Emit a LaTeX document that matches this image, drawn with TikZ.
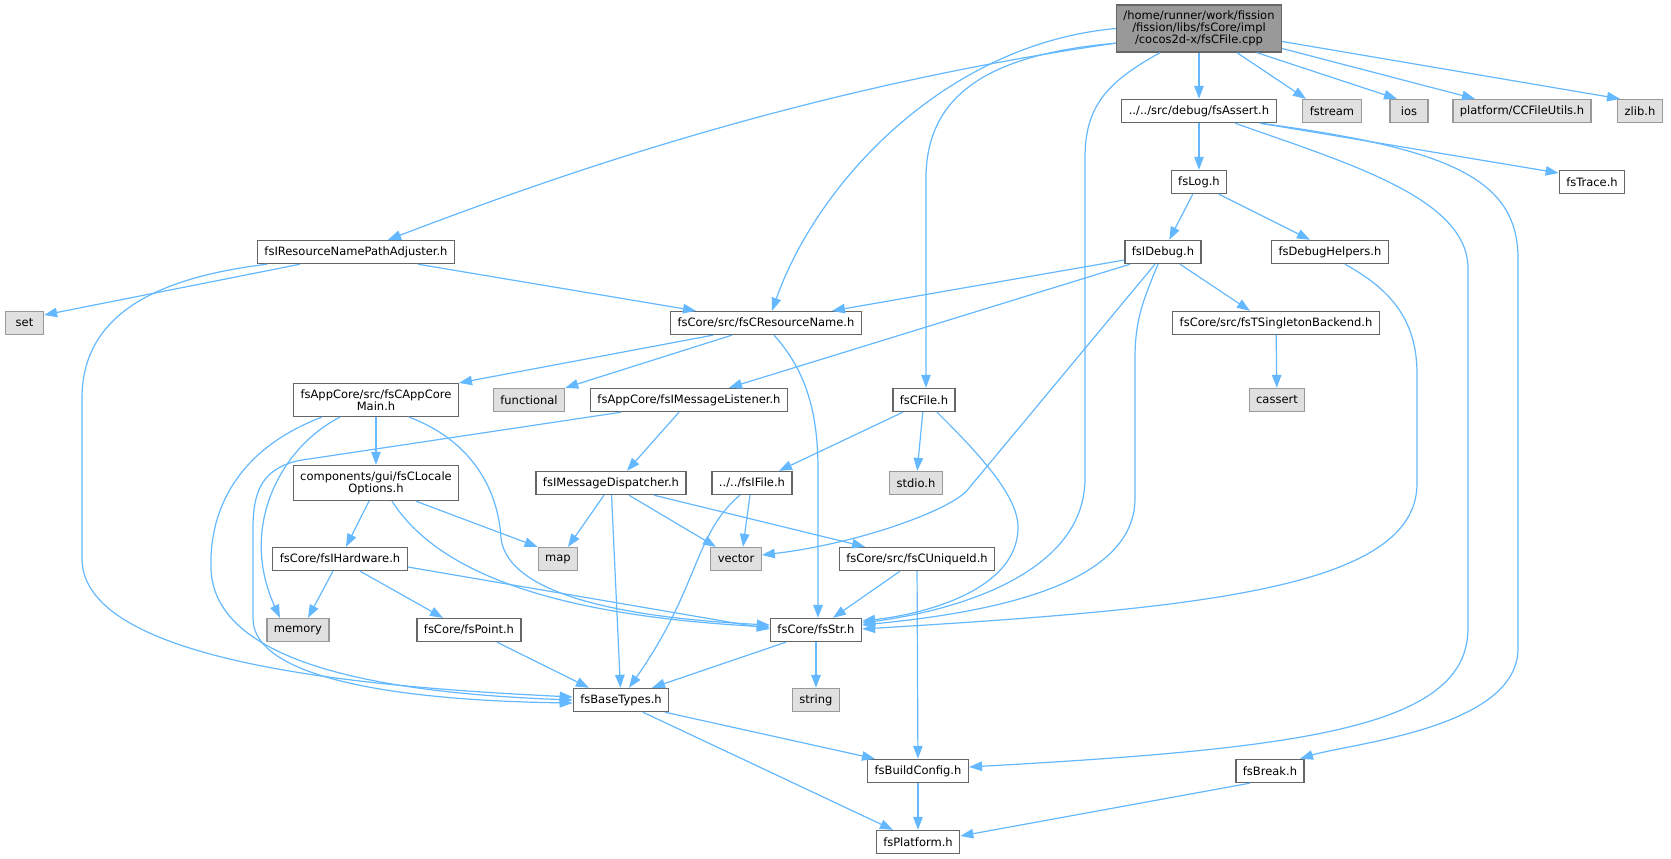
\documentclass[tikz,border=0pt]{standalone}
\usepackage{fontspec}
\setmainfont{DejaVu Sans}
\usetikzlibrary{arrows.meta,positioning}
\definecolor{edgeblue}{HTML}{63B8FF}
\definecolor{boxgray}{HTML}{666666}
\definecolor{sysline}{HTML}{999999}
\definecolor{sysfill}{HTML}{E0E0E0}
\definecolor{rootfill}{HTML}{999999}
\tikzset{%
	>={Triangle[length=13pt,width=9.5pt]},
	header/.style={rectangle, draw=boxgray, fill=white, line width=1.3pt, inner xsep=7pt, inner ysep=6pt, minimum height=23pt, minimum width=38pt, align=center, font=\fontsize{11.5}{12}\selectfont},
	syshdr/.style={header, draw=sysline, fill=sysfill},
	rootfile/.style={header, draw=boxgray, fill=rootfill},
	dep/.style={->, draw=edgeblue, line width=1.2pt}
}
\begin{document}
\begin{tikzpicture}[node distance=71pt, x=1pt, y=1pt]
\useasboundingbox (-1199,28.5) rectangle (472,-830.5);
\node (root) [rootfile] {/home/runner/work/fission\\/fission/libs/fsCore/impl\\/cocos2d-x/fsCFile.cpp};
\node (h_assert) [header, below of=root, yshift=-11.5pt] {../../src/debug/fsAssert.h};
\node (s_fstream) [syshdr, right of=h_assert, xshift=62pt] {fstream};
\node (s_ios) [syshdr, right of=s_fstream, xshift=6pt] {ios};
\node (s_ccfileutils) [syshdr, right of=s_ios, xshift=42pt] {platform/CCFileUtils.h};
\node (s_zlib) [syshdr, right of=s_ccfileutils, xshift=47pt] {zlib.h};
\node (h_log) [header, below of=h_assert] {fsLog.h};
\node (h_trace) [header, right of=h_log, xshift=322pt] {fsTrace.h};
\node (h_idebug) [header, below of=h_log, xshift=-36pt, yshift=1pt] {fsIDebug.h};
\node (h_debughelpers) [header, right of=h_idebug, xshift=96pt] {fsDebugHelpers.h};
\node (h_pathadjuster) [header, left of=h_idebug, xshift=-736pt] {fsIResourceNamePathAdjuster.h};
\node (s_set) [syshdr, below of=h_pathadjuster, xshift=-331.5pt] {set};
\node (h_resname) [header, below of=h_pathadjuster, xshift=410pt] {fsCore/src/fsCResourceName.h};
\node (h_singleton) [header, below of=h_idebug, xshift=113pt] {fsCore/src/fsTSingletonBackend.h};
\node (h_appmain) [header, below of=h_resname, xshift=-390pt, yshift=-6pt] {fsAppCore/src/fsCAppCore\\Main.h};
\node (s_functional) [syshdr, right of=h_appmain, xshift=82pt] {functional};
\node (h_msglistener) [header, right of=s_functional, xshift=89pt] {fsAppCore/fsIMessageListener.h};
\node (h_cfile) [header, right of=h_msglistener, xshift=164pt] {fsCFile.h};
\node (s_cassert) [syshdr, below of=h_singleton, xshift=1pt, yshift=-6pt] {cassert};
\node (h_locale) [header, below of=h_appmain, yshift=-12pt] {components/gui/fsCLocale\\Options.h};
\node (h_dispatcher) [header, right of=h_locale, xshift=164pt] {fsIMessageDispatcher.h};
\node (h_ifile) [header, right of=h_dispatcher, xshift=70pt] {../../fsIFile.h};
\node (s_stdio) [syshdr, below of=h_cfile, xshift=-8pt, yshift=-12pt] {stdio.h};
\node (h_hardware) [header, below of=h_locale, xshift=-36pt, yshift=-5pt] {fsCore/fsIHardware.h};
\node (s_map) [syshdr, right of=h_hardware, xshift=147pt] {map};
\node (s_vector) [syshdr, below of=h_ifile, xshift=-16pt, yshift=-5pt] {vector};
\node (h_uniqueid) [header, right of=s_vector, xshift=110pt] {fsCore/src/fsCUniqueId.h};
\node (s_memory) [syshdr, below of=h_hardware, xshift=-42pt] {memory};
\node (h_point) [header, right of=s_memory, xshift=100pt] {fsCore/fsPoint.h};
\node (h_str) [header, below of=s_vector, xshift=80pt] {fsCore/fsStr.h};
\node (h_basetypes) [header, below of=h_str, xshift=-195pt, yshift=1pt] {fsBaseTypes.h};
\node (s_string) [syshdr, below of=h_str, yshift=1pt] {string};
\node (h_buildconfig) [header, below of=s_string, xshift=102pt] {fsBuildConfig.h};
\node (h_break) [header, right of=h_buildconfig, xshift=281pt] {fsBreak.h};
\node (h_platform) [header, below of=h_buildconfig] {fsPlatform.h};

\draw[dep] (root.190) .. controls (-400,-60) and (-650,-150) .. ([xshift=32pt]h_pathadjuster.north);
\draw[dep] (root.west) .. controls (-250,-15) and (-380,-150) .. ([xshift=6pt]h_resname.north);
\draw[dep] (root.190) .. controls (-200,-25) and (-273,-60) .. (-273,-150) -- ([xshift=2pt]h_cfile.north);
\draw[dep] ([xshift=-39pt]root.south) .. controls (-95,-55) and (-114,-80) .. (-114,-130) -- (-114,-450) .. controls (-114,-540) and (-230,-580) .. ([yshift=7pt]h_str.east);
\path (root) edge[dep] (h_assert);
\draw[dep] ([xshift=38pt]root.south) -- ([xshift=-26pt]s_fstream.north);
\draw[dep] ([xshift=58pt]root.south) -- ([xshift=-12pt]s_ios.north);
\draw[dep] ([yshift=-20pt]root.east) -- ([xshift=-47pt]s_ccfileutils.north);
\draw[dep] ([yshift=-13pt]root.east) -- ([xshift=3pt]s_zlib.north west);

\path (h_assert) edge[dep] (h_log);
\draw[dep] ([xshift=61pt]h_assert.south) -- ([yshift=9pt]h_trace.west);
\draw[dep] ([xshift=36pt]h_assert.south) .. controls (150,-135) and (269,-170) .. (269,-240) -- (269,-600) .. controls (269,-700) and (100,-720) .. ([yshift=4pt]h_buildconfig.east);
\draw[dep] ([xshift=61pt]h_assert.south) .. controls (250,-120) and (319,-150) .. (319,-230) -- (319,-620) .. controls (319,-700) and (150,-715) .. ([xshift=30pt]h_break.north);

\path (h_log) edge[dep] (h_idebug);
\draw[dep] ([xshift=20pt]h_log.south) -- ([xshift=-20pt]h_debughelpers.north);

\draw[dep] ([yshift=-8pt]h_idebug.west) -- ([xshift=66pt]h_resname.north);
\draw[dep] ([xshift=-33pt]h_idebug.south) -- ([xshift=40pt]h_msglistener.north);
\draw[dep] ([xshift=-8pt]h_idebug.south) -- (-232,-462) .. controls (-250,-482) and (-340,-515) .. ([yshift=4pt]s_vector.east);
\draw[dep] ([xshift=-5pt]h_idebug.south) .. controls (-55,-270) and (-64,-290) .. (-64,-330) -- (-64,-470) .. controls (-64,-560) and (-220,-585) .. ([yshift=5pt]h_str.east);
\draw[dep] ([xshift=17pt]h_idebug.south) -- ([xshift=-26pt]h_singleton.north);

\draw[dep] ([xshift=15pt]h_debughelpers.south) .. controls (190,-260) and (218,-290) .. (218,-345) -- (218,-455) .. controls (218,-560) and (0,-580) .. ([yshift=1pt]h_str.east);
\path (h_singleton) edge[dep] (s_cassert);

\draw[dep] ([xshift=-56pt]h_pathadjuster.south) -- ([yshift=8pt]s_set.east);
\draw[dep] ([xshift=-89pt]h_pathadjuster.south) .. controls (-1050,-250) and (-1117,-290) .. (-1117,-370) -- (-1117,-530) .. controls (-1117,-640) and (-800,-660) .. ([yshift=3pt]h_basetypes.west);
\draw[dep] ([xshift=62pt]h_pathadjuster.south) -- ([xshift=-70pt]h_resname.north);

\draw[dep] ([xshift=-53pt]h_resname.south) -- (h_appmain.north east);
\draw[dep] ([xshift=-34pt]h_resname.south) -- (s_functional.north east);
\draw[dep] ([xshift=8pt]h_resname.south) .. controls (-395,-340) and (-381,-380) .. (-381,-440) -- ([xshift=2pt]h_str.north);

\path (h_appmain) edge[dep] (h_locale);
\draw[dep] ([xshift=-36pt]h_appmain.south) .. controls (-920,-420) and (-960,-500) .. ([xshift=-18pt]s_memory.north);
\draw[dep] ([xshift=-54pt]h_appmain.south) .. controls (-960,-420) and (-990,-480) .. (-988,-540) .. controls (-985,-640) and (-800,-665) .. (h_basetypes.west);
\draw[dep] ([xshift=33pt]h_appmain.south) .. controls (-720,-415) and (-700,-470) .. (-698,-510) .. controls (-690,-570) and (-560,-590) .. ([yshift=5pt]h_str.west);

\draw[dep] ([xshift=-10pt]h_msglistener.south) -- ([xshift=16pt]h_dispatcher.north);
\draw[dep] ([xshift=-68pt]h_msglistener.south) -- (-900,-432) .. controls (-935,-440) and (-946,-460) .. (-946,-500) -- (-946,-590) .. controls (-946,-650) and (-800,-672) .. ([yshift=-3pt]h_basetypes.west);

\draw[dep] ([xshift=-7pt]h_locale.south) -- ([xshift=6pt]h_hardware.north);
\draw[dep] ([xshift=40pt]h_locale.south) -- (s_map.north west);
\draw[dep] ([xshift=16pt]h_locale.south) .. controls (-770,-530) and (-680,-585) .. ([yshift=3pt]h_str.west);

\draw[dep] ([xshift=-7pt]h_dispatcher.south) -- ([xshift=10pt]s_map.north);
\path (h_dispatcher) edge[dep] (h_basetypes);
\draw[dep] ([xshift=18pt]h_dispatcher.south) -- ([xshift=-20pt]s_vector.north);
\draw[dep] ([xshift=43pt]h_dispatcher.south) -- ([xshift=-52pt]h_uniqueid.north);

\draw[dep] ([xshift=-2pt]h_ifile.south) -- ([xshift=7pt]s_vector.north);
\draw[dep] ([xshift=-12pt]h_ifile.south) .. controls (-505,-505) and (-500,-560) .. ([xshift=8pt]h_basetypes.north);

\draw[dep] ([xshift=-21pt]h_cfile.south) -- ([xshift=27pt]h_ifile.north);
\path (h_cfile) edge[dep] (s_stdio);
\draw[dep] ([xshift=13pt]h_cfile.south) .. controls (-215,-430) and (-180,-470) .. (-181,-500) .. controls (-182,-560) and (-270,-585) .. ([yshift=9pt]h_str.east);

\draw[dep] ([xshift=-7pt]h_hardware.south) -- ([xshift=10pt]s_memory.north);
\draw[dep] ([xshift=20pt]h_hardware.south) -- ([xshift=-26pt]h_point.north);
\draw[dep] ([yshift=-8pt]h_hardware.east) -- ([yshift=1pt]h_str.west);

\draw[dep] ([xshift=-17pt]h_uniqueid.south) -- ([xshift=17pt]h_str.north);
\path (h_uniqueid) edge[dep] (h_buildconfig);
\draw[dep] ([xshift=28pt]h_point.south) -- ([xshift=-32pt]h_basetypes.north);
\draw[dep] ([xshift=-30pt]h_str.south) -- ([xshift=31pt]h_basetypes.north);
\path (h_str) edge[dep] (s_string);
\draw[dep] ([xshift=44pt]h_basetypes.south) -- ([xshift=-43pt]h_buildconfig.north);
\draw[dep] ([xshift=22pt]h_basetypes.south) -- ([xshift=-25pt]h_platform.north);
\path (h_buildconfig) edge[dep] (h_platform);
\draw[dep] ([xshift=-20pt]h_break.south) -- ([yshift=6pt]h_platform.east);

\end{tikzpicture}
\end{document}
